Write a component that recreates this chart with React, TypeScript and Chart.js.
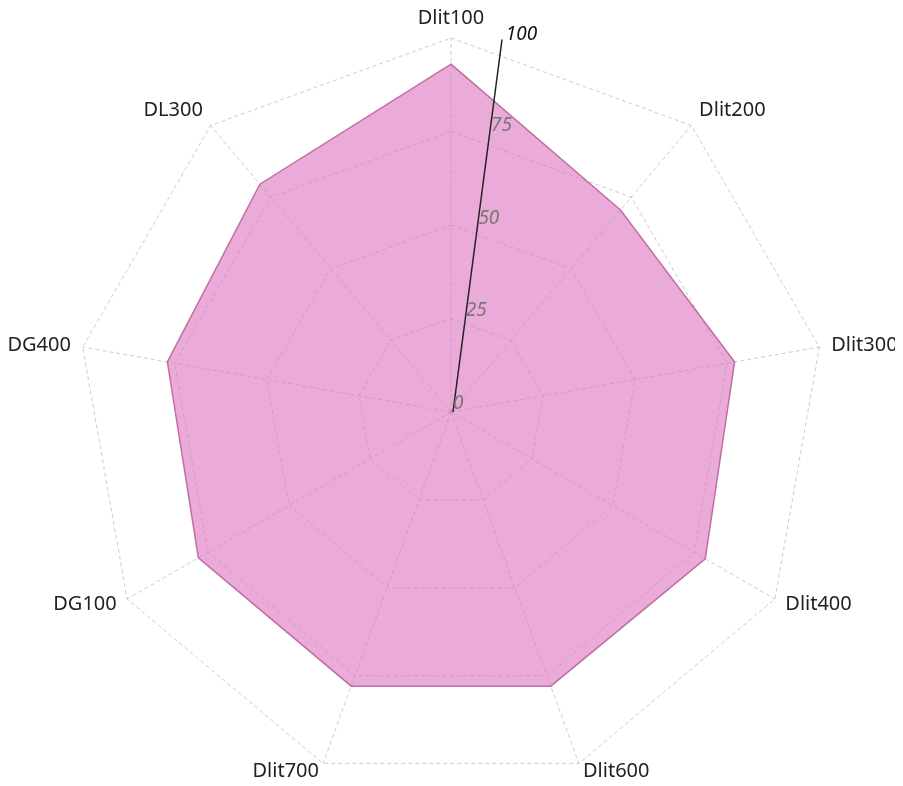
import React, { useEffect, useRef } from "react";
import { Chart, registerables } from "chart.js";

Chart.register(...registerables);

const categories = ["Dlit100", "Dlit200", "Dlit300", "Dlit400", "Dlit600", "Dlit700", "DG100", "DG400", "DL300"];
const seriesValues = [93, 70.5, 77, 78.5, 78, 78, 78, 77, 79.5];
const tickValues = [0, 25, 50, 75, 100];
const tickLabels = ["0", "25", "50", "75", "100"];

const AXIS_ANGLE_DEG = 7.8;

const tiltedAxisPlugin = {
  id: "tiltedAxis",
  afterDatasetsDraw(chart: any) {
    const scale = chart.scales.r;
    const ctx = chart.ctx;
    const cx = scale.xCenter;
    const cy = scale.yCenter;
    const a = (AXIS_ANGLE_DEG * Math.PI) / 180;
    const dx = Math.sin(a);
    const dy = -Math.cos(a);
    const rMax = scale.getDistanceFromCenterForValue(100);
    ctx.save();
    ctx.strokeStyle = "#222";
    ctx.lineWidth = 1.5;
    ctx.beginPath();
    ctx.moveTo(cx + 2, cy);
    ctx.lineTo(cx + dx * (rMax + 2), cy + dy * (rMax + 2));
    ctx.stroke();
    ctx.font = "italic 19px 'Noto Sans'";
    ctx.textAlign = "left";
    ctx.textBaseline = "bottom";
    tickValues.forEach((v, i) => {
      const d = scale.getDistanceFromCenterForValue(v);
      const x = cx + dx * d;
      const y = cy + dy * d;
      ctx.fillStyle = v === 100 ? "#111" : "#777";
      if (v === 100) {
        ctx.fillText(tickLabels[i], x + 4, y + 3);
      } else {
        ctx.fillText(tickLabels[i], x + 2, y + 1);
      }
    });

    // category labels placed around the outer ring
    ctx.font = "20px 'Noto Sans'";
    ctx.fillStyle = "#222";
    ctx.textBaseline = "middle";
    const labels = chart.data.labels as string[];
    labels.forEach((lab, i) => {
      const ang = scale.getIndexAngle(i); // radians, 0 at top, clockwise
      const s = Math.sin(ang);
      const c = Math.cos(ang);
      const p = scale.getPointPosition(i, rMax + 12);
      let align: CanvasTextAlign = "center";
      if (s > 0.05) align = "left";
      else if (s < -0.05) align = "right";
      ctx.textAlign = align;
      const yOff = c > 0 ? -c * 10 + 2 : c * 6 + 2;
      ctx.fillText(lab, p.x, p.y + yOff);
    });
    ctx.restore();
  },
};

export default function App() {
  const ref = useRef<HTMLCanvasElement | null>(null);
  useEffect(() => {
    if (!ref.current) return;
    const chart = new Chart(ref.current, {
      type: "radar",
      data: {
        labels: categories,
        datasets: [
          {
            data: seriesValues,
            backgroundColor: "rgba(222,115,190,0.6)",
            borderColor: "rgba(185,100,155,0.9)",
            borderWidth: 1.5,
            pointRadius: 0,
            fill: true,
          },
        ],
      },
      options: {
        animation: false,
        responsive: true,
        maintainAspectRatio: false,
        layout: { padding: { top: 38, bottom: 0, left: 0, right: 0 } },
        plugins: { legend: { display: false }, tooltip: { enabled: false } },
        scales: {
          r: {
            min: 0,
            max: 100,
            ticks: { stepSize: 25, display: false },
            grid: {
              color: "rgba(140,140,165,0.45)",
              lineWidth: 1,
              circular: false,
            },
            border: { dash: [4, 3] } as any,
            angleLines: {
              color: "rgba(140,140,165,0.45)",
              lineWidth: 1,
              borderDash: [4, 3],
            },
            pointLabels: { display: false },
          },
        },
      },
      plugins: [tiltedAxisPlugin],
    });
    return () => chart.destroy();
  }, []);
  return (
    <div style={{ width: 903, height: 786, margin: -8, position: "relative", overflow: "hidden" }}>
      <canvas ref={ref} />
    </div>
  );
}
